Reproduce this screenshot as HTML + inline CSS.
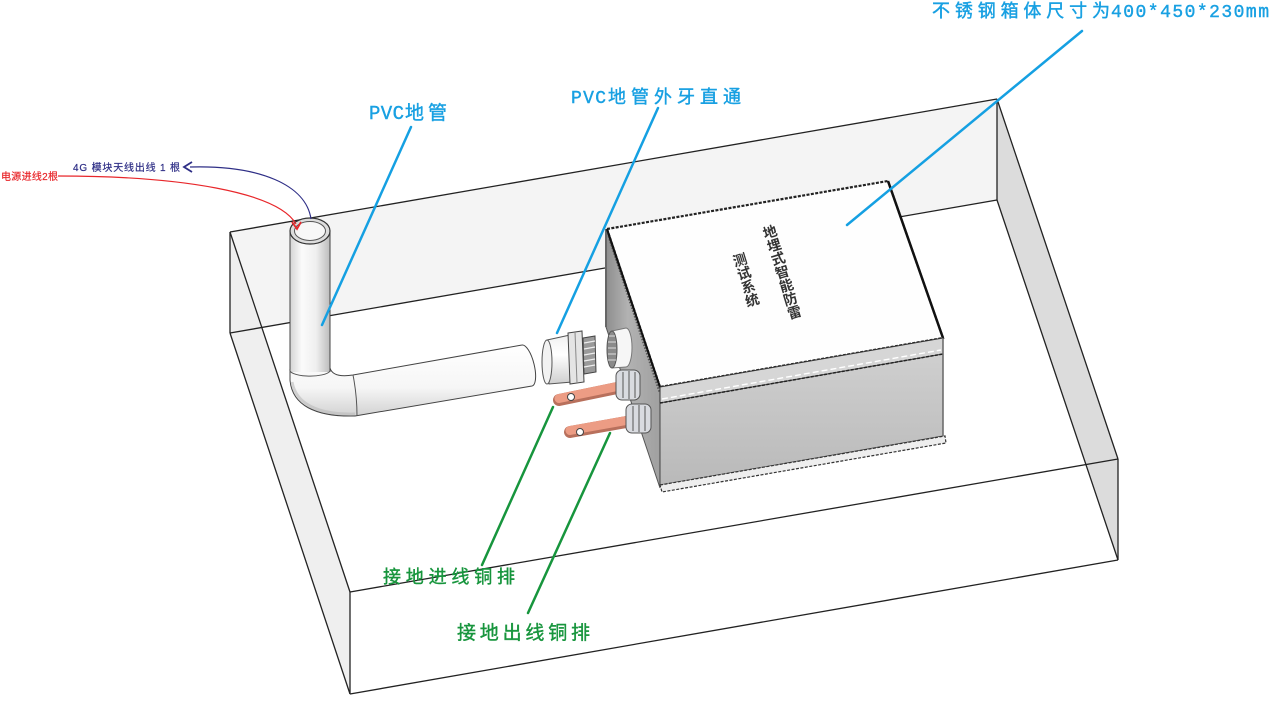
<!DOCTYPE html>
<html><head><meta charset="utf-8">
<style>
html,body{margin:0;padding:0;background:#fff;}
body{width:1271px;height:704px;overflow:hidden;}
svg{display:block;}
.cjk{font-family:"Liberation Sans","Noto Sans CJK SC",sans-serif;}
.mono{font-family:"Liberation Mono","Noto Sans CJK SC",monospace;}
</style></head>
<body>
<svg width="1271" height="704" viewBox="0 0 1271 704" xmlns="http://www.w3.org/2000/svg">
<defs>
  <linearGradient id="vp" x1="0" y1="0" x2="1" y2="0">
    <stop offset="0" stop-color="#d4d4d4"/>
    <stop offset="0.3" stop-color="#fbfbfb"/>
    <stop offset="0.65" stop-color="#efefef"/>
    <stop offset="1" stop-color="#bcbcbc"/>
  </linearGradient>
  <linearGradient id="hp" x1="0" y1="0" x2="0" y2="1">
    <stop offset="0" stop-color="#ffffff"/>
    <stop offset="0.6" stop-color="#f6f6f6"/>
    <stop offset="1" stop-color="#d2d2d2"/>
  </linearGradient>
  <linearGradient id="front" x1="0" y1="0" x2="0" y2="1">
    <stop offset="0" stop-color="#cfcfcf"/>
    <stop offset="1" stop-color="#b9b9b9"/>
  </linearGradient>
  <linearGradient id="endf" x1="0" y1="0" x2="1" y2="0">
    <stop offset="0" stop-color="#8e8e8e"/>
    <stop offset="0.4" stop-color="#b2b2b2"/>
    <stop offset="1" stop-color="#a0a0a0"/>
  </linearGradient>
  <linearGradient id="cyl" x1="0" y1="0" x2="0" y2="1">
    <stop offset="0" stop-color="#f0f0f0"/>
    <stop offset="0.4" stop-color="#ffffff"/>
    <stop offset="1" stop-color="#cfcfcf"/>
  </linearGradient>
</defs>

<!-- Outer transparent box faces -->
<polygon points="230,232 997,99 997,200 230,333" fill="#f4f4f4"/>
<polygon points="230,232 350,592 350,694 230,333" fill="#efefef"/>
<polygon points="997,99 1118,459 1118,560 997,200" fill="#dcdcdc"/>

<g stroke="#222" stroke-width="1.3" fill="none">
  <line x1="230" y1="232" x2="997" y2="99"/>
  <line x1="230" y1="333" x2="997" y2="200"/>
  <line x1="230" y1="232" x2="230" y2="333"/>
  <line x1="997" y1="99" x2="997" y2="200"/>
  <line x1="230" y1="232" x2="350" y2="592"/>
  <line x1="230" y1="333" x2="350" y2="694"/>
  <line x1="997" y1="99" x2="1118" y2="459"/>
  <line x1="997" y1="200" x2="1118" y2="560"/>
  <line x1="350" y1="592" x2="350" y2="694"/>
  <line x1="1118" y1="459" x2="1118" y2="560"/>
  <line x1="350" y1="592" x2="1118" y2="459"/>
  <line x1="350" y1="694" x2="1118" y2="560"/>
</g>

<!-- PVC pipe: elbow + horizontal -->
<path d="M290,368 L290,380 C292,405 315,417 355,416 L532,386 A7,20.6 -14 0 0 522,345 L353,375 C340,377 332,375 330,368 Z" fill="url(#hp)" stroke="#444" stroke-width="1"/>
<path d="M292,382 C296,404 318,415 355,414" fill="none" stroke="#bbb" stroke-width="3" opacity="0.6"/>
<path d="M353,375 C356,390 357,404 357,416" fill="none" stroke="#555" stroke-width="1"/>
<!-- vertical pipe -->
<rect x="290" y="231" width="40" height="141" fill="url(#vp)"/>
<line x1="290" y1="231" x2="290" y2="372" stroke="#444" stroke-width="1"/>
<line x1="330" y1="231" x2="330" y2="372" stroke="#444" stroke-width="1"/>
<path d="M290,369 A20,6 0 0 0 330,371" fill="none" stroke="#555" stroke-width="1"/>
<ellipse cx="310" cy="231" rx="20" ry="13" fill="#dcdcdc" stroke="#333" stroke-width="1.2"/>
<ellipse cx="310" cy="231" rx="15.5" ry="9.5" fill="#f7f7f7" stroke="#555" stroke-width="1"/>

<!-- Device: end face -->
<polygon points="606,229 660,387 660,488 606,327" fill="url(#endf)" stroke="#555" stroke-width="1"/>
<line x1="606" y1="229" x2="606" y2="327" stroke="#666" stroke-width="2"/>
<line x1="609" y1="236" x2="660" y2="392" stroke="#555" stroke-width="3" stroke-dasharray="1.5 1.5"/>
<!-- lid top -->
<polygon points="607,229 888,181 943,338 660,387" fill="#fefefe" stroke="#222" stroke-width="2.2" stroke-dasharray="3 1.4"/>
<line x1="888" y1="181" x2="943" y2="338" stroke="#111" stroke-width="2.5"/>
<line x1="607" y1="229" x2="660" y2="387" stroke="#111" stroke-width="2"/>
<!-- lid band -->
<polygon points="660,387 943,338 943,354 660,403" fill="#d6d6d6" stroke="#333" stroke-width="1"/>
<line x1="662" y1="399" x2="941" y2="350" stroke="#fff" stroke-width="1.4" stroke-dasharray="6 3"/>
<!-- front body -->
<polygon points="660,403 943,354 943,436 660,485" fill="url(#front)" stroke="#444" stroke-width="1"/>
<line x1="660" y1="403" x2="943" y2="354" stroke="#222" stroke-width="1.5" stroke-dasharray="3 1.5"/>
<!-- ledge -->
<polygon points="660,485 945,436 946,443 662,492" fill="#eeeeee" stroke="#333" stroke-width="1.2" stroke-dasharray="3 1.5"/>
<line x1="943" y1="338" x2="943" y2="436" stroke="#666" stroke-width="1.5"/>

<!-- Text on lid -->
<g class="cjk" font-size="14" font-weight="bold" fill="#333" text-anchor="middle" dominant-baseline="central">
  <text x="770" y="232" transform="rotate(-17 770 232)">地</text>
  <text x="774.1" y="245.4" transform="rotate(-17 774.1 245.4)">埋</text>
  <text x="778.2" y="258.8" transform="rotate(-17 778.2 258.8)">式</text>
  <text x="782.2" y="272.2" transform="rotate(-17 782.2 272.2)">智</text>
  <text x="786.3" y="285.6" transform="rotate(-17 786.3 285.6)">能</text>
  <text x="790.4" y="299" transform="rotate(-17 790.4 299)">防</text>
  <text x="794.5" y="312.4" transform="rotate(-17 794.5 312.4)">雷</text>
  <text x="740" y="260" transform="rotate(-17 740 260)">测</text>
  <text x="744.1" y="273.4" transform="rotate(-17 744.1 273.4)">试</text>
  <text x="748.2" y="286.8" transform="rotate(-17 748.2 286.8)">系</text>
  <text x="752.2" y="300.2" transform="rotate(-17 752.2 300.2)">统</text>
</g>

<!-- Round fitting on end face -->
<path d="M612,331 L626,328 A6,19.5 0 0 1 626,367 L612,368 Z" fill="#f6f6f6" stroke="#777" stroke-width="1"/>
<ellipse cx="612" cy="349.5" rx="5" ry="18.5" fill="#8a8a8a" stroke="#555" stroke-width="1"/>
<g stroke="#ddd" stroke-width="1">
  <line x1="609" y1="336" x2="615" y2="336"/>
  <line x1="608" y1="342" x2="616" y2="342"/>
  <line x1="608" y1="348" x2="616" y2="348"/>
  <line x1="608" y1="354" x2="616" y2="354"/>
  <line x1="608" y1="360" x2="616" y2="360"/>
</g>

<!-- Copper bars -->
<line x1="559" y1="400" x2="622" y2="387" stroke="#b8705c" stroke-width="12" stroke-linecap="round"/>
<line x1="559" y1="398.5" x2="622" y2="385.5" stroke="#ec9c84" stroke-width="9" stroke-linecap="round"/>
<circle cx="571" cy="397" r="3.5" fill="#fff" stroke="#444" stroke-width="1"/>
<line x1="570" y1="432" x2="632" y2="421" stroke="#b8705c" stroke-width="12" stroke-linecap="round"/>
<line x1="570" y1="430.5" x2="632" y2="419.5" stroke="#ec9c84" stroke-width="9" stroke-linecap="round"/>
<circle cx="580" cy="432" r="3.5" fill="#fff" stroke="#444" stroke-width="1"/>

<!-- Cable glands -->
<g stroke="#555" stroke-width="1">
  <rect x="616" y="370" width="24" height="30" rx="6" fill="#d9dbe0"/>
  <line x1="623" y1="372" x2="623" y2="398"/>
  <line x1="629" y1="371" x2="629" y2="399"/>
  <line x1="635" y1="372" x2="635" y2="398"/>
  <rect x="626" y="404" width="25" height="29" rx="6" fill="#d9dbe0"/>
  <line x1="633" y1="406" x2="633" y2="431"/>
  <line x1="639" y1="405" x2="639" y2="432"/>
  <line x1="645" y1="406" x2="645" y2="431"/>
</g>

<!-- PVC male adapter -->
<path d="M547,340 L570,335 L572,382 L549,384 Z" fill="url(#cyl)" stroke="#555" stroke-width="1"/>
<ellipse cx="547" cy="362" rx="5" ry="22" fill="#f2f2f2" stroke="#555" stroke-width="1"/>
<polygon points="568,333 582,331 584,382 570,384" fill="#e4e4e4" stroke="#444" stroke-width="1"/>
<line x1="575" y1="332" x2="577" y2="383" stroke="#888" stroke-width="1"/>
<polygon points="583,338 595,336 596,372 584,374" fill="#9a9a9a" stroke="#444" stroke-width="1"/>
<g stroke="#eee" stroke-width="1.2">
  <line x1="584" y1="343" x2="595" y2="341"/>
  <line x1="584" y1="349" x2="595" y2="347"/>
  <line x1="584" y1="355" x2="595" y2="353"/>
  <line x1="584" y1="361" x2="595" y2="359"/>
  <line x1="584" y1="367" x2="595" y2="365"/>
</g>

<!-- Leader lines -->
<g stroke="#15a0e2" stroke-width="2.5" stroke-linecap="round">
  <line x1="1082" y1="31" x2="847" y2="225"/>
  <line x1="658" y1="108" x2="557" y2="333"/>
  <line x1="411" y1="127" x2="322" y2="325"/>
</g>
<g stroke="#17953d" stroke-width="2.5" stroke-linecap="round">
  <line x1="482" y1="565" x2="553" y2="407"/>
  <line x1="528" y1="613" x2="610" y2="433"/>
</g>

<!-- Wire callouts -->
<path d="M190,167 C260,165 306,185 311,219" fill="none" stroke="#2e2e86" stroke-width="1.2"/>
<polyline points="192,162 184,167 192,172" fill="none" stroke="#2e2e86" stroke-width="1.8"/>
<path d="M58,176 C180,176 278,192 296,224" fill="none" stroke="#e8262a" stroke-width="1.2"/>
<polyline points="292,222 297,229 301,222" fill="none" stroke="#e8262a" stroke-width="1.8"/>

<!-- Labels -->
<g stroke-width="0.4">
<text class="cjk" x="932" y="17" font-size="18" fill="#18a0e2" stroke="#18a0e2" textLength="178" lengthAdjust="spacing">不锈钢箱体尺寸为</text>
<text class="mono" x="1111" y="17" font-size="18" fill="#18a0e2" stroke="#18a0e2" textLength="158" lengthAdjust="spacing">400*450*230mm</text>

<text class="mono" x="571" y="103" font-size="18" fill="#18a0e2" stroke="#18a0e2" textLength="35" lengthAdjust="spacing">PVC</text>
<text class="cjk" x="608" y="103" font-size="18" fill="#18a0e2" stroke="#18a0e2" textLength="133" lengthAdjust="spacing">地管外牙直通</text>

<text class="mono" x="369" y="119" font-size="19" fill="#18a0e2" stroke="#18a0e2" textLength="35" lengthAdjust="spacing">PVC</text>
<text class="cjk" x="405" y="119" font-size="19" fill="#18a0e2" stroke="#18a0e2" textLength="42" lengthAdjust="spacing">地管</text>

<text class="cjk" x="383" y="583" font-size="18" fill="#17953d" stroke="#17953d" textLength="132" lengthAdjust="spacing">接地进线铜排</text>
<text class="cjk" x="457" y="639" font-size="19" fill="#17953d" stroke="#17953d" textLength="133" lengthAdjust="spacing">接地出线铜排</text>

<text class="cjk" x="73" y="171" font-size="10" fill="#2e2e86" stroke="#2e2e86" stroke-width="0.2" textLength="107" lengthAdjust="spacing">4G 模块天线出线 1 根</text>
<text class="cjk" x="1" y="180" font-size="10" fill="#e8262a" stroke="#e8262a" stroke-width="0.2" textLength="57" lengthAdjust="spacing">电源进线2根</text>
</g>
</svg>
</body></html>
